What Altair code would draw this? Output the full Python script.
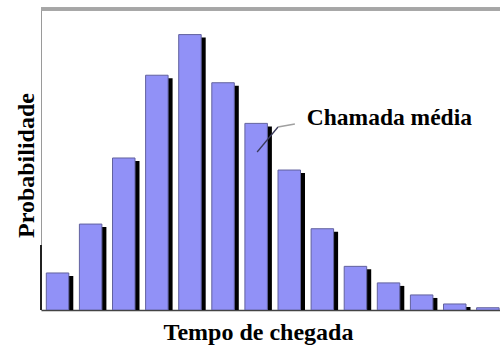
import altair as alt
import pandas as pd

# Arrival-time histogram: probability (%) per arrival-time class
classes = list(range(1, 15))
probability = [2.46, 5.71, 10.1, 15.6, 18.3, 15.1, 12.4, 9.3, 5.4, 2.9, 1.8, 1.0, 0.4, 0.15]

# Leader line for the "Chamada média" callout, in data coordinates
leader_x = [7.03, 7.66]
leader_y = [10.5, 12.16]
elbow_x = [7.66, 8.17]
elbow_y = [12.16, 12.36]
label_x = 8.53
label_y = 12.3
label_text = "Chamada média"

df = pd.DataFrame({"classe": classes, "prob": probability})
lead = pd.DataFrame({"x": [leader_x[0]], "x2": [leader_x[1]], "y": [leader_y[0]], "y2": [leader_y[1]]})
elbow = pd.DataFrame({"x": [elbow_x[0]], "x2": [elbow_x[1]], "y": [elbow_y[0]], "y2": [elbow_y[1]]})
lab = pd.DataFrame({"x": [label_x], "y": [label_y], "t": [label_text]})

W, H = 459, 301
FONT = "Liberation Serif"

xscale = alt.Scale(domain=[0.5, 0.5 + W / 33.1], nice=False, zero=False, padding=0)
yscale = alt.Scale(domain=[0, 20], nice=False, padding=0)

x_axis = alt.Axis(
    title="Tempo de chegada", labels=False, ticks=False, grid=False,
    domainColor="#444444", domainWidth=1.5,
    titleFont=FONT, titleFontSize=24, titleFontWeight="bold", titleColor="#000000",
    titleX=217, titleY=29, titleBaseline="alphabetic", titleAlign="center",
)
y_axis = alt.Axis(
    title="Probabilidade", labels=False, ticks=False, grid=False,
    domainColor="#9a9a9a", domainWidth=1,
    titleFont=FONT, titleFontSize=24, titleFontWeight="bold", titleColor="#000000",
    titleX=-8, titleY=156, titleBaseline="alphabetic", titleAlign="center", titleAngle=-90,
)

base = alt.Chart(df)

shadow = base.mark_bar(size=22.5, color="#000000", xOffset=4.5, yOffset=3, clip=True).encode(
    x=alt.X("classe:Q", scale=xscale, axis=x_axis),
    y=alt.Y("prob:Q", scale=yscale, axis=y_axis),
)

bars = base.mark_bar(size=22.5, color="#9191f7", stroke="#62629e", strokeWidth=1, clip=True).encode(
    x=alt.X("classe:Q", scale=xscale),
    y=alt.Y("prob:Q", scale=yscale),
)

# frame: grey top border and dark lower part of the left edge
top_line = alt.Chart(df).mark_rule(color="#a6a6a6", strokeWidth=2.5).encode(
    x=alt.value(0), x2=alt.value(W), y=alt.value(0)
)
left_dark = alt.Chart(df).mark_rule(color="#222222", strokeWidth=1.5).encode(
    x=alt.value(0), y=alt.value(236), y2=alt.value(H)
)

lead_rule = alt.Chart(lead).mark_rule(color="#3a3a5a", strokeWidth=1.3).encode(
    x=alt.X("x:Q", scale=xscale), x2="x2:Q",
    y=alt.Y("y:Q", scale=yscale), y2="y2:Q",
)
elbow_rule = alt.Chart(elbow).mark_rule(color="#a0a0a0", strokeWidth=1.5).encode(
    x=alt.X("x:Q", scale=xscale), x2="x2:Q",
    y=alt.Y("y:Q", scale=yscale), y2="y2:Q",
)
label = alt.Chart(lab).mark_text(
    font=FONT, fontSize=23.5, fontWeight="bold", color="#000000",
    align="left", baseline="alphabetic",
).encode(
    x=alt.X("x:Q", scale=xscale),
    y=alt.Y("y:Q", scale=yscale),
    text="t:N",
)

chart = alt.layer(shadow, bars, top_line, left_dark, lead_rule, elbow_rule, label).properties(
    width=W, height=H,
    autosize=alt.AutoSizeParams(type="none"),
    padding={"left": 41, "top": 9, "right": 0, "bottom": 35},
).configure_view(stroke=None).configure(background="#ffffff")

chart.save("out.html", embed_options={"renderer": "svg", "actions": False})
